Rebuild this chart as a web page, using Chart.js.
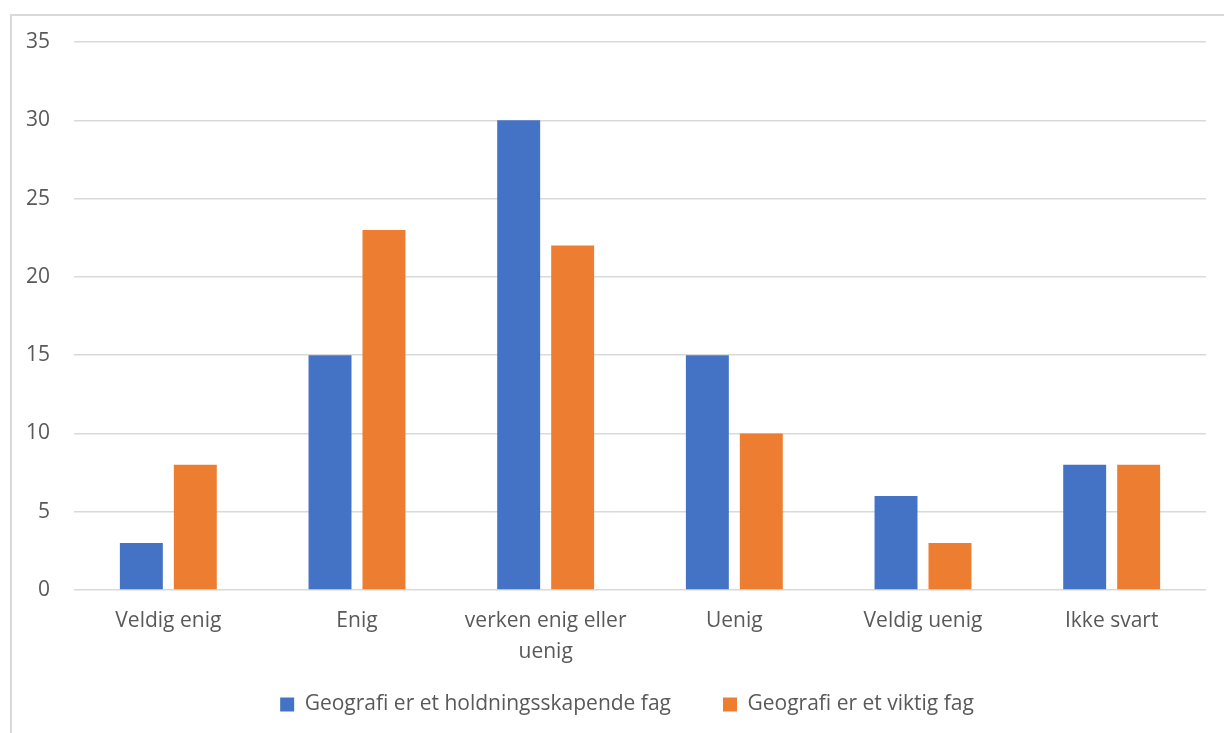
<!DOCTYPE html>
<html>
<head>
<meta charset="utf-8">
<script src="https://cdn.jsdelivr.net/npm/chart.js@4"></script>
<style>
  body { margin: 0; background: #fff; overflow: hidden; }
  #frame {
    position: absolute; left: 10px; top: 14px;
    width: 1240px; height: 740px;
    border: 2px solid #d9d9d9; box-sizing: border-box;
  }
  #wrap { position: absolute; left: 0; top: 0; width: 1224px; height: 733px; }
</style>
</head>
<body>
<div id="frame"></div>
<div id="wrap"><canvas id="myChart"></canvas></div>
<script>
/*** survey answers */
const categories = ['Veldig enig', 'Enig', ['verken enig eller', 'uenig'], 'Uenig', 'Veldig uenig', 'Ikke svart'];
const holdning = [3, 15, 30, 15, 6, 8];
const viktig = [8, 23, 22, 10, 3, 8];
const seriesNames = ['Geografi er et holdningsskapende fag', 'Geografi er et viktig fag'];

const txt = '#595959';
const font = { family: "'Open Sans', sans-serif", size: 21 };

// tick labels may run outside their own axis box
function noLabelClip(s) { s._computeLabelArea = function () { return undefined; }; }

const ctx = document.getElementById('myChart').getContext('2d');
new Chart(ctx, {
  type: 'bar',
  data: {
    labels: categories,
    datasets: [
      { label: seriesNames[0], data: holdning, backgroundColor: '#4472C4' },
      { label: seriesNames[1], data: viktig, backgroundColor: '#ED7D31' }
    ]
  },
  options: {
    responsive: true,
    maintainAspectRatio: false,
    animation: false,
    categoryPercentage: 0.572,
    barPercentage: 0.796,
    layout: { padding: { top: 42, right: 18, bottom: 8, left: 48 } },
    plugins: {
      tooltip: { enabled: false },
      legend: {
        position: 'bottom',
        labels: {
          color: txt,
          font: font,
          boxWidth: 14,
          boxHeight: 14,
          padding: 52
        }
      }
    },
    scales: {
      x: {
        grid: { display: false },
        border: { display: false },
        ticks: { color: txt, font: { family: font.family, size: 21, lineHeight: 1.5 }, padding: 7, maxRotation: 0 },
        afterFit: function (s) {
          s.height = 52;
          noLabelClip(s);
        }
      },
      y: {
        min: 0,
        max: 35,
        ticks: { stepSize: 5, color: txt, font: font, padding: 24 },
        grid: { color: '#d9d9d9', lineWidth: 1.5, tickLength: 0 },
        border: { display: false },
        afterFit: function (s) {
          s.width = 26;
          noLabelClip(s);
        }
      }
    }
  }
});
</script>
</body>
</html>
